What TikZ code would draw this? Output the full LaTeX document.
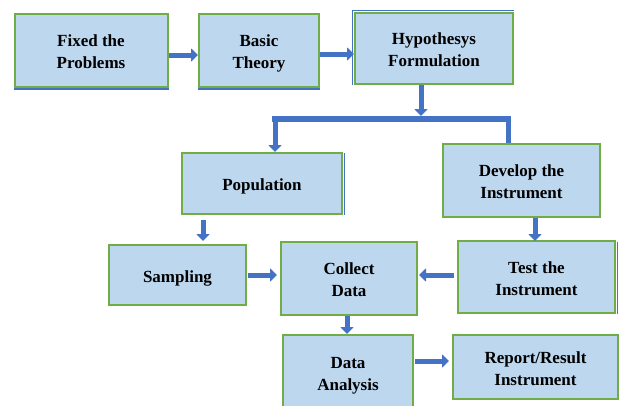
\documentclass[tikz,border=0pt]{standalone}
\usepackage{fontspec}
\setmainfont{Liberation Serif}
\usetikzlibrary{arrows.meta,calc}
\definecolor{boxfill}{HTML}{BDD7EE}
\definecolor{boxline}{HTML}{70AD47}
\definecolor{flow}{HTML}{4472C4}
% text of a stage, set a little below the middle of its box
\newcommand\stagetext[1]{\raisebox{-3pt}[\height][\depth]{\begin{tabular}{@{}c@{}}#1\end{tabular}}}
\tikzset{
  stage/.style={draw=boxline, line width=2pt, fill=boxfill,
    font=\fontsize{17}{22}\selectfont\bfseries, inner sep=0pt},
  arr/.style={draw=flow, line width=5pt, -{Triangle[length=7pt,width=13pt]}},
  bar/.style={draw=flow, line width=6pt, line cap=rect},
  leg/.style={draw=flow, line width=5pt},
  rim/.style={draw=flow, line width=1.4pt}
}
\begin{document}
\begin{tikzpicture}[x=1pt,y=-1pt]
\useasboundingbox (0,0) rectangle (619,405);

% first row
\node[stage, minimum width=153pt, minimum height=73pt] (fix) at (91,50) {\stagetext{Fixed the\\Problems}};
\node[stage, minimum width=120pt, minimum height=73pt] (basic) at (259,50) {\stagetext{Basic\\Theory}};
\node[stage, minimum width=158pt, minimum height=71pt] (hyp) at (434,48.5) {\stagetext{Hypothesys\\Formulation}};

% second row
\node[stage, minimum width=160pt, minimum height=61pt] (pop) at (262,183.5) {\stagetext{Population}};
\node[stage, minimum width=157pt, minimum height=73pt] (dev) at (521.5,180.5) {\stagetext{Develop the\\Instrument}};

% third row
\node[stage, minimum width=137pt, minimum height=60pt] (samp) at (177.5,275) {\stagetext{Sampling}};
\node[stage, minimum width=136pt, minimum height=73pt] (coll) at (349,278.5) {\stagetext{Collect\\Data}};
\node[stage, minimum width=157pt, minimum height=72pt] (test) at (536.5,277) {\stagetext{Test the\\Instrument}};

% fourth row
\node[stage, minimum width=130pt, minimum height=74pt] (ana) at (348,372) {\stagetext{Data\\Analysis}};
\node[stage, minimum width=165pt, minimum height=64pt] (rep) at (535.5,367) {\stagetext{Report/Result\\Instrument}};

% thin blue rims along some box edges
\draw[rim] ($(fix.south west)+(0,1.6)$) -- ($(fix.south east)+(0,1.6)$);
\draw[rim] ($(basic.south west)+(0,1.6)$) -- ($(basic.south east)+(0,1.6)$);
\draw[rim] ($(hyp.south west)+(-1.6,0)$) -- ($(hyp.north west)+(-1.6,-1.6)$) -- ($(hyp.north east)+(0,-1.6)$);
\draw[rim] ($(pop.north east)+(1.6,1)$) -- ($(pop.south east)+(1.6,0)$);
\draw[rim] ($(test.north east)+(1.6,2)$) -- ($(test.south east)+(1.6,0)$);

% top row arrows
\draw[arr] ($(fix.east)+(0,5)$) -- ($(basic.west)+(0,5)$);
\draw[arr] ($(basic.east)+(0,4)$) -- ($(hyp.west)+(0,5.5)$);

% split below the hypothesis
\coordinate (barL) at (275,119);
\coordinate (barR) at (508,119);
\draw[bar] (barL) -- (barR);
\draw[arr] ([xshift=-13pt]hyp.south) -- ([xshift=-13pt]hyp.south |- 0,116);
\draw[arr] (barL) -- (barL |- pop.north);
\draw[leg] (barL) -- ++(0,1);
\draw[leg] (barR) -- (barR |- dev.north);

% remaining flow
\draw[arr] ([xshift=-59pt,yshift=-5pt]pop.south) -- ++(0,21);
\draw[arr] (dev.south) ++(13.5pt,0) -- ++(0,23);
\draw[arr] ($(samp.east)+(1,0)$) -- ($(coll.west)+(-3,-3.5)$);
\draw[arr] ($(test.west)+(-3,-2)$) -- ($(coll.east)+(1,-3.5)$);
\draw[arr] ([xshift=-2pt]coll.south) -- ++(0,18);
\draw[arr] ($(ana.east)+(1,-11)$) -- ($(rep.west)+(-3,-6)$);
\end{tikzpicture}
\end{document}
